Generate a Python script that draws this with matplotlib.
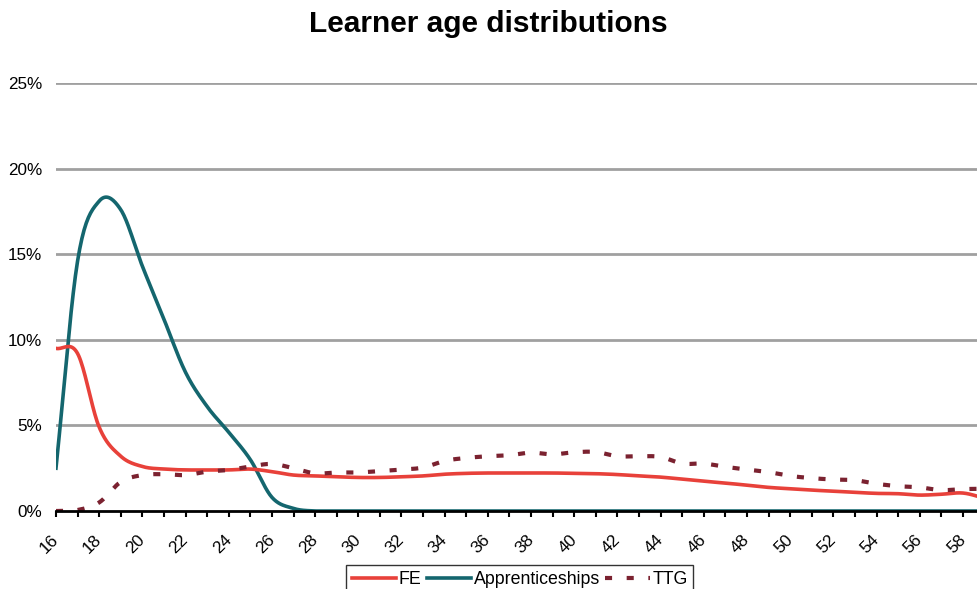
import numpy as np
import matplotlib
matplotlib.use("Agg")
import matplotlib.pyplot as plt
import matplotlib.transforms as mtransforms
from matplotlib.ticker import FixedLocator, FuncFormatter

plt.rcParams['font.family'] = ['Liberation Sans', 'DejaVu Sans']

ages = list(range(16, 60))
fe = [9.5, 9.2, 4.9, 3.2, 2.6, 2.45, 2.4, 2.4, 2.4, 2.45, 2.3, 2.1, 2.05, 2.0, 1.96, 1.96,
      2.0, 2.05, 2.15, 2.2, 2.22, 2.22, 2.22, 2.22, 2.2, 2.18, 2.13, 2.05, 1.98, 1.86, 1.74,
      1.63, 1.51, 1.38, 1.30, 1.22, 1.16, 1.09, 1.03, 1.01, 0.93, 0.98, 1.05, 0.75]
appr = [2.5, 14.6, 18.1, 17.6, 14.3, 11.2, 8.1, 6.1, 4.6, 3.0, 0.8, 0.15, 0.0, 0.0, 0.0, 0.0,
        0.0, 0.0, 0.0, 0.0, 0.0, 0.0, 0.0, 0.0, 0.0, 0.0, 0.0, 0.0, 0.0, 0.0, 0.0,
        0.0, 0.0, 0.0, 0.0, 0.0, 0.0, 0.0, 0.0, 0.0, 0.0, 0.0, 0.0, 0.0]
ttg = [0.0, 0.06, 0.5, 1.7, 2.1, 2.15, 2.1, 2.3, 2.4, 2.6, 2.75, 2.5, 2.2, 2.25, 2.25, 2.34,
       2.42, 2.54, 2.93, 3.1, 3.2, 3.26, 3.41, 3.31, 3.43, 3.45, 3.2, 3.2, 3.16, 2.77, 2.77,
       2.58, 2.42, 2.27, 2.05, 1.92, 1.84, 1.80, 1.59, 1.45, 1.38, 1.22, 1.28, 1.3]
series_names = ["FE", "Apprenticeships", "TTG"]
yticks = [0, 5, 10, 15, 20, 25]


def smooth(x, y, n=20):
    x = np.asarray(x, float)
    y = np.asarray(y, float)
    px = np.concatenate([[2 * x[0] - x[1]], x, [2 * x[-1] - x[-2]]])
    py = np.concatenate([[2 * y[0] - y[1]], y, [2 * y[-1] - y[-2]]])
    xs, ys = [], []
    for i in range(1, len(px) - 2):
        t = np.linspace(0, 1, n, endpoint=False)
        for arr, out in ((px, xs), (py, ys)):
            p0, p1, p2, p3 = arr[i - 1], arr[i], arr[i + 1], arr[i + 2]
            out.extend(0.5 * ((2 * p1) + (-p0 + p2) * t + (2 * p0 - 5 * p1 + 4 * p2 - p3) * t ** 2
                              + (-p0 + 3 * p1 - 3 * p2 + p3) * t ** 3))
    xs.append(x[-1]); ys.append(y[-1])
    return np.array(xs), np.array(ys)


fig = plt.figure(figsize=(9.77, 5.89), dpi=100)
ax = fig.add_axes([0.0573, 0.1324, 0.9427, 0.7267])

for yv in yticks[1:]:
    ax.axhline(yv, color='#A0A0A0', lw=2.0, zorder=1)

colors = ['#E8413A', '#14666E', '#7B2230']
for vals, name, c in zip([fe, appr, ttg], series_names, colors):
    sx, sy = smooth(ages, vals)
    sy = np.maximum(sy, 0)
    if name == 'TTG':
        ax.plot(sx, sy, color=c, lw=3.0, ls=(0, (1.7, 3.5)), label=name, zorder=3,
                solid_capstyle='butt', dash_capstyle='butt')
    else:
        ax.plot(sx, sy, color=c, lw=2.6, label=name, zorder=3 if name == 'FE' else 2)

ax.set_xlim(16, 58.65)
ax.set_ylim(0, 25)
ax.set_yticks(yticks)
ax.yaxis.set_major_formatter(FuncFormatter(lambda v, p: f"{int(v)}%"))
ax.tick_params(axis='y', length=0, labelsize=12.3, pad=10)

ax.xaxis.set_major_locator(FixedLocator(ages))
ax.set_xticklabels([str(a) if a % 2 == 0 else '' for a in ages], rotation=45,
                   ha='right', rotation_mode='anchor', fontsize=12.3)
ax.tick_params(axis='x', length=4.5, width=1.5, direction='out', color='black', pad=10.5)
offset = mtransforms.ScaledTranslation(-5 / 100, 0, fig.dpi_scale_trans)
for lbl in ax.get_xticklabels():
    lbl.set_transform(lbl.get_transform() + offset)

for s in ['top', 'right', 'left']:
    ax.spines[s].set_visible(False)
ax.spines['bottom'].set_linewidth(2)
ax.spines['bottom'].set_color('black')
ax.spines['bottom'].set_zorder(4)

fig.suptitle("Learner age distributions", fontsize=21.5, fontweight='bold', y=0.983)

leg = fig.legend(loc='lower center', bbox_to_anchor=(0.532, -0.022), ncol=3, frameon=True,
                 fontsize=12.8, handlelength=2.5, handletextpad=0.15, columnspacing=0.3,
                 borderpad=0.3, fancybox=False, edgecolor='black')
leg.get_frame().set_linewidth(1.0)

fig.savefig("out.png", dpi=100)
